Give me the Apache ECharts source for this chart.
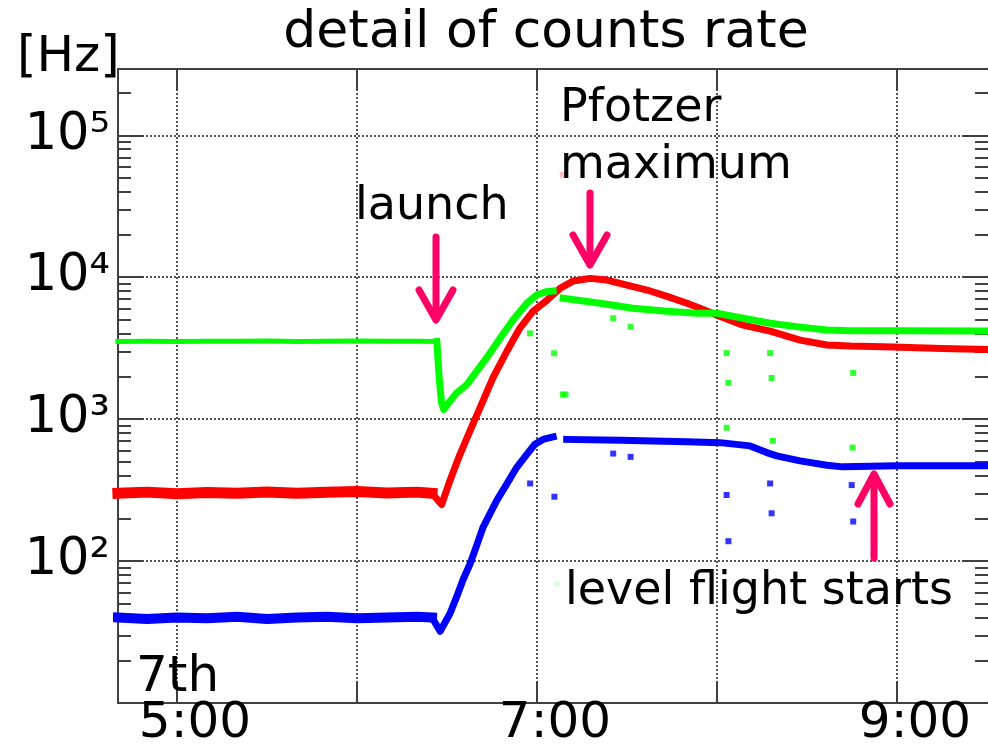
<!DOCTYPE html>
<html lang="en">
<head>
    <meta charset="utf-8">
    <script src="https://cdn.jsdelivr.net/npm/echarts@6/dist/echarts.min.js"></script>
    <style>
        html, body { margin: 0; padding: 0; background: #fff; }
        #chart { width: 988px; height: 749px; }
    </style>
</head>
<body>
<div id="chart"></div>
<script type="text/javascript">
    // time in minutes after midnight, counts rate in Hz
    var greenGround = [[280.3,3530],[290,3540],[300,3530],[310,3540],[320,3535],[330,3545],[340,3530],[350,3540],[360,3545],[370,3535],[380,3540],[386.6,3530]];
    var greenFlight = [[386.6,3530],[386.8,3080],[387.1,2420],[387.4,1950],[387.8,1580],[388.2,1300],[388.9,1170],[391,1340],[393.2,1530],[396.6,1750],[403.2,2700],[407.7,3720],[412,5000],[416.6,6550],[419.9,7490],[423.2,7910],[425.4,7990],[427,null],[428.7,7100],[441,6550],[452,6050],[463.3,5760],[473.3,5570],[480,5570],[488.7,5140],[497.7,4740],[507.7,4450],[516.7,4240],[524.3,4190],[540,4190],[570.3,4180]];
    var redGround = [[280.3,300],[290,306],[300,298],[310,304],[320,300],[330,307],[340,301],[350,305],[360,309],[370,302],[380,306],[385,300]];
    var redFlight = [[385,300],[388.2,250],[391,370],[394.3,563],[397.7,829],[401,1200],[405.3,1950],[410,3020],[414.3,4380],[418.7,5760],[423.3,6880],[427.7,8350],[432,9390],[437.7,9810],[443.3,9550],[450,8800],[456.7,8120],[463.3,7330],[470,6550],[474.3,6050],[480,5400],[488.7,4590],[497.7,4170],[507.7,3600],[516.7,3330],[524.3,3270],[538.7,3220],[555,3150],[570.3,3100]];
    var blueGround = [[280.3,40],[290,39],[300,40],[310,39.5],[320,40.5],[330,39],[340,40],[350,40.5],[360,39.5],[370,40],[380,40.5],[385,40]];
    var blueFlight = [[385,40],[387.7,32],[391,42.7],[393.2,55.9],[395.3,73.6],[397.7,95.7],[399.9,129],[402,173],[404.3,215],[406.6,268],[409.9,348],[413.2,456],[416.6,565],[419.3,665],[422,720],[425.4,749],[427.5,null],[429.9,720],[447.7,709],[469.9,694],[481,683],[491,648],[496.6,581],[499.9,551],[507.7,508],[516.6,473],[522,461],[540,469],[570.3,469]];
    var greenOutliers = [[417.7,4020],[425.7,2910],[428.6,1490],[429.5,1490],[445.4,5140],[451.2,4470],[483.2,2920],[483.8,1800],[497.7,2920],[498.2,1950],[525.4,2115],[525,3270],[483.2,870],[498.6,702],[525.2,630]];
    var blueOutliers = [[417.7,352],[425.8,284],[445.4,572],[451.2,542],[483.2,292],[483.8,138],[497.7,352],[498.2,217],[524.9,343],[525.4,190]];
    var faintRed = [[428.6,52600]];
    var faintGreen = [[426.7,69]];

    var hourTicks = [300, 360, 420, 480, 540];
    var hourLabels = [300, 420, 540];
    var decadeValues = [100, 1000, 10000, 100000];
    var decadeLabels = ['10\u00b2', '10\u00b3', '10\u2074', '10\u2075'];
    var minorTicks = [20,30,40,50,60,70,80,90,200,300,400,500,600,700,800,900,2000,3000,4000,5000,6000,7000,8000,9000,20000,30000,40000,50000,60000,70000,80000,90000,200000];

    var FONT = '"DejaVu Sans", Verdana, sans-serif';
    var AXIS_COLOR = '#404040';
    var GRID_LINE = { type: [2, 2], color: '#2a2a2a', width: 1.6 };
    var PINK = '#ff0066';

    var myChart = echarts.init(document.getElementById('chart'));

    function timeLabel(v) {
        var m = Math.round(v);
        var mm = m % 60;
        return Math.floor(m / 60) + ':' + (mm < 10 ? '0' + mm : mm);
    }

    function decadeLabel(v) {
        for (var i = 0; i < decadeValues.length; i++) {
            if (Math.abs(v - decadeValues[i]) < 1e-6 * decadeValues[i]) return decadeLabels[i];
        }
        return '';
    }

    function logAxis(pos, tickLen, custom, withLabel, withGrid) {
        var ax = {
            type: 'log',
            logBase: 10,
            position: pos,
            min: 10,
            max: 293000,
            axisLine: { show: pos === 'left' && withLabel, lineStyle: { color: AXIS_COLOR, width: 2 } },
            axisTick: { show: true, inside: true, length: tickLen, lineStyle: { color: AXIS_COLOR, width: 2 } },
            axisLabel: { show: false },
            splitLine: { show: false },
            minorTick: { show: false }
        };
        if (custom) ax.axisTick.customValues = custom;
        if (withLabel) {
            ax.axisLabel = {
                show: true, margin: 8, formatter: decadeLabel,
                fontSize: 51, fontFamily: FONT, color: '#000',
                padding: [0, 0, 7, 0],
                showMinLabel: true, showMaxLabel: true
            };
        }
        if (withGrid) {
            ax.splitLine = { show: true, lineStyle: GRID_LINE };
        }
        return ax;
    }

    function lineSeries(data, color, width) {
        return {
            type: 'line', data: data, symbol: 'none', connectNulls: false,
            lineStyle: { color: color, width: width, cap: 'square', join: 'round' },
            itemStyle: { color: color },
            silent: true
        };
    }

    function dotSeries(data, color) {
        return {
            type: 'scatter', data: data, symbol: 'rect', symbolSize: 6,
            itemStyle: { color: color }, silent: true
        };
    }

    function arrow(shaft, head) {
        var st = { stroke: PINK, lineWidth: 7, lineCap: 'round', lineJoin: 'round', fill: null };
        return [
            { type: 'polyline', shape: { points: shaft }, style: st, z: 100 },
            { type: 'polyline', shape: { points: head }, style: st, z: 100 }
        ];
    }

    function label(text, x, y, size, align) {
        return {
            type: 'text', x: x, y: y, z: 101,
            style: { text: text, fontSize: size, fontFamily: FONT, fill: '#000', align: align || 'left', verticalAlign: 'middle' }
        };
    }

    var graphics = [].concat(
        arrow([[436,237],[436,317]], [[419,290],[436,320],[453,290]]),
        arrow([[590,193],[590,262]], [[573,235],[590,265],[607,235]]),
        arrow([[874,558],[874,478]], [[858,504],[874,474],[890,504]]),
        [
            label('detail of counts rate', 546, 33, 52, 'center'),
            label('[Hz]', 17, 58, 50),
            label('launch', 355, 207, 46),
            label('Pfotzer', 560, 109, 46),
            label('maximum', 560, 166, 46),
            label('level flight starts', 565, 592, 46),
            label('7th', 136, 678, 50)
        ]
    );

    var option = {
        animation: false,
        backgroundColor: '#fff',
        grid: { left: 118, right: 0, top: 69, bottom: 43, containLabel: false },
        xAxis: [{
            type: 'value', position: 'bottom', min: 280.33, max: 570.33,
            axisLine: { show: true, onZero: false, lineStyle: { color: AXIS_COLOR, width: 2 } },
            axisTick: { show: true, inside: true, length: 21, customValues: hourTicks, lineStyle: { color: AXIS_COLOR, width: 2 } },
            axisLabel: { show: true, customValues: hourLabels, formatter: timeLabel, margin: -4,
                         fontSize: 50, fontFamily: FONT, color: '#000', padding: [0, 0, 0, 36] },
            splitLine: { show: true, lineStyle: GRID_LINE }
        }, {
            type: 'value', position: 'top', min: 280.33, max: 570.33,
            axisLine: { show: true, onZero: false, lineStyle: { color: AXIS_COLOR, width: 2 } },
            axisTick: { show: true, inside: true, length: 21, customValues: hourTicks, lineStyle: { color: AXIS_COLOR, width: 2 } },
            axisLabel: { show: false },
            splitLine: { show: false }
        }],
        yAxis: [
            logAxis('left', 25, null, true, true),
            logAxis('left', 13, minorTicks, false, false),
            logAxis('right', 25, null, false, false),
            logAxis('right', 13, minorTicks, false, false)
        ],
        series: [
            lineSeries(blueGround, '#0000ff', 10),
            lineSeries(blueFlight, '#0000ff', 7),
            lineSeries(redGround, '#ff0000', 11),
            lineSeries(redFlight, '#ff0000', 7),
            lineSeries(greenGround, '#00ff00', 5),
            lineSeries(greenFlight, '#00ff00', 7),
            dotSeries(blueOutliers, '#0000ff'),
            dotSeries(greenOutliers, '#00ff00'),
            dotSeries(faintRed, '#ffb0b0'),
            dotSeries(faintGreen, '#d8ffd8')
        ],
        graphic: graphics
    };

    myChart.setOption(option);
</script>
</body>
</html>
